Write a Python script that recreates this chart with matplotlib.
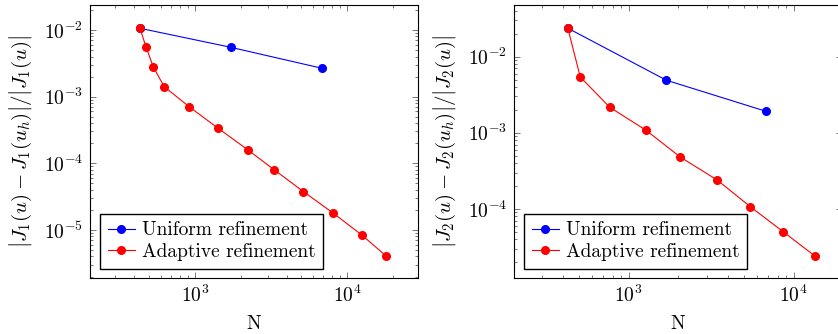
import matplotlib.pyplot as plt
import numpy as np

plt.rcParams['font.family'] = 'serif'
plt.rcParams['font.serif'] = ['cmr10']
plt.rcParams['mathtext.fontset'] = 'cm'
plt.rcParams['axes.formatter.use_mathtext'] = True

# J1 error (left panel)
n_uni_1 = [435, 1718, 6810]
err_uni_1 = [0.0106, 0.0055, 0.00267]
n_ada_1 = [435, 476, 532, 628, 918, 1409, 2243, 3325, 5160, 8130, 12500, 18070]
err_ada_1 = [0.0106, 0.0056, 0.00279, 0.00141, 0.000702, 0.00034, 0.000157,
             7.96e-5, 3.77e-5, 1.78e-5, 8.4e-6, 4.07e-6]

# J2 error (right panel)
n_uni_2 = [428, 1691, 6760]
err_uni_2 = [0.0236, 0.0049, 0.00192]
n_ada_2 = [428, 509, 767, 1273, 2055, 3443, 5458, 8610, 13400]
err_ada_2 = [0.0236, 0.0054, 0.00217, 0.00108, 0.00048, 0.000239, 0.000107,
             5.04e-5, 2.42e-5]

W, H = 838, 334
fig = plt.figure(figsize=(W / 100, H / 100), dpi=100)
ax1 = fig.add_axes([90 / W, (H - 278) / H, 328 / W, 273 / H])
ax2 = fig.add_axes([514 / W, (H - 278) / H, 328 / W, 273 / H])


def panel(ax, nu, eu, na, ea, xlim, ylim, ylabel):
    ax.loglog(nu, eu, '-o', color='#0000ff', lw=0.8, ms=5.5, label='Uniform refinement')
    ax.loglog(na, ea, '-o', color='#ff0000', lw=0.8, ms=5.5, label='Adaptive refinement')
    ax.set_xlim(*xlim)
    ax.set_ylim(*ylim)
    ax.set_xlabel(r'$\mathrm{N}$', fontsize=14, labelpad=6)
    ax.set_ylabel(ylabel, fontsize=15, labelpad=7)
    ax.tick_params(which='both', direction='in', top=True, right=True,
                   labelsize=14, width=0.5, color='#444444')
    ax.tick_params(which='major', length=4.5, pad=5)
    ax.tick_params(which='minor', length=2.5)
    for s in ax.spines.values():
        s.set_linewidth(0.8)
    ax.legend(loc='lower left', bbox_to_anchor=(0.03, 0.033), borderaxespad=0,
              fancybox=False, edgecolor='black', framealpha=1, fontsize=14,
              handlelength=1.4, borderpad=0.4, labelspacing=0.2, handletextpad=0.35)


panel(ax1, n_uni_1, err_uni_1, n_ada_1, err_ada_1, (204, 29300), (1.9e-6, 0.0237),
      r'$\left|J_1(u)-J_1(u_h)\right|/\left|J_1(u)\right|$')
panel(ax2, n_uni_2, err_uni_2, n_ada_2, err_ada_2, (202, 19600), (1.24e-5, 0.0476),
      r'$\left|J_2(u)-J_2(u_h)\right|/\left|J_2(u)\right|$')

fig.savefig('out.png', dpi=100)
